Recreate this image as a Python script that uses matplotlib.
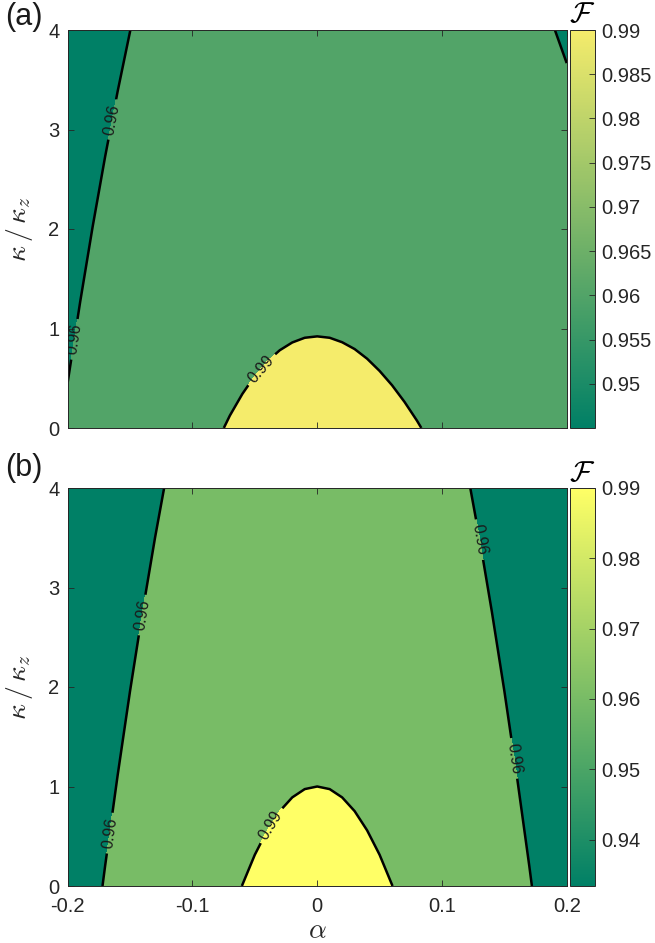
import numpy as np
import matplotlib
matplotlib.use('Agg')
import matplotlib.pyplot as plt
from matplotlib.colors import LinearSegmentedColormap, Normalize
from matplotlib.cm import ScalarMappable
from matplotlib.ticker import FuncFormatter

plt.rcParams['font.family'] = ['Liberation Sans', 'DejaVu Sans']
plt.rcParams['mathtext.fontset'] = 'cm'
plt.rcParams['axes.unicode_minus'] = False

# ---------------- data ----------------
alpha = np.round(np.arange(-0.20, 0.2001, 0.01), 2)   # alpha grid
kappa = np.array([0.0, 4.0])                           # kappa / kappa_z grid

# panel (a): fidelity along alpha at kappa=0, and its change from kappa=0 to 4
F_a_k0 = [0.96195, 0.96537, 0.96857, 0.97155, 0.97432, 0.97688, 0.97924,
          0.98141, 0.98338, 0.98516, 0.98676, 0.98819, 0.98944, 0.99053,
          0.99145, 0.99222, 0.99284, 0.99331, 0.99364, 0.99384, 0.99390,
          0.99384, 0.99365, 0.99336, 0.99295, 0.99243, 0.99182, 0.99111,
          0.99031, 0.98942, 0.98846, 0.98742, 0.98631, 0.98514, 0.98390,
          0.98261, 0.98128, 0.97989, 0.97847, 0.97702, 0.97553]
F_a_kshift = [0.0, -0.01694]

# panel (b)
F_b_k0 = [0.94804, 0.95254, 0.95681, 0.96085, 0.96466, 0.96824, 0.97158,
          0.97470, 0.97758, 0.98024, 0.98266, 0.98485, 0.98681, 0.98855,
          0.99005, 0.99132, 0.99235, 0.99316, 0.99374, 0.99409, 0.99420,
          0.99409, 0.99374, 0.99316, 0.99235, 0.99132, 0.99005, 0.98855,
          0.98681, 0.98485, 0.98266, 0.98024, 0.97758, 0.97470, 0.97158,
          0.96824, 0.96466, 0.96085, 0.95681, 0.95254, 0.94804]
F_b_kshift = [0.0, -0.0168]

levels = [0.96, 0.99]
clim_a = (0.945, 0.99)
clim_b = (0.9334, 0.99)
cbar_ticks_a = [0.95, 0.955, 0.96, 0.965, 0.97, 0.975, 0.98, 0.985, 0.99]
cbar_ticks_b = [0.94, 0.95, 0.96, 0.97, 0.98, 0.99]
xticks = [-0.2, -0.1, 0, 0.1, 0.2]
yticks = [0, 1, 2, 3, 4]
label_pos_a = [(-0.1638, 3.10), (-0.194, 0.89), (-0.043, 0.57)]
label_pos_b = [(-0.1387, 2.72), (-0.1655, 0.53), (0.1296, 3.48),
               (0.1564, 1.28), (-0.0347, 0.59)]

# ---------------- style ----------------
DARK = '#262626'
cmap_a = LinearSegmentedColormap.from_list('summer_a', [(0.0, 0.5, 0.4), (0.96, 0.925, 0.42)])
cmap_b = plt.get_cmap('summer')

fig = plt.figure(figsize=(6.55, 9.43), dpi=100)
W, H = 655.0, 943.0
TICK_FS = 14.5


def panel(ax_rect, cax_rect, F_k0, F_kshift, cmap, clim, cticks, lpos, show_x, tag, tag_y, flab_y):
    ax = fig.add_axes(ax_rect)
    cax = fig.add_axes(cax_rect)
    F = np.asarray(F_k0)[None, :] + np.asarray(F_kshift)[:, None]
    norm = Normalize(*clim)
    fill_levels = [F.min() - 1, levels[0], levels[1], F.max() + 1]
    fill_colors = [cmap(0.0), cmap(norm(levels[0])), cmap(norm(levels[1]))]
    ax.contourf(alpha, kappa, F, levels=fill_levels, colors=fill_colors, antialiased=False)
    cs = ax.contour(alpha, kappa, F, levels=levels, colors='k', linewidths=1.8)
    ax.clabel(cs, fmt=lambda v: f'{v:g}', fontsize=11.5, inline=True,
              inline_spacing=5, manual=lpos, colors='#1a1a1a')
    ax.set_xlim(-0.2, 0.2)
    ax.set_ylim(0, 4)
    ax.set_xticks(xticks)
    ax.set_yticks(yticks)
    ax.xaxis.set_major_formatter(FuncFormatter(lambda v, p: f'{v:g}'))
    ax.tick_params(direction='in', top=True, right=True, length=4, width=0.6,
                   color=DARK, labelcolor=DARK, labelsize=TICK_FS,
                   labelbottom=show_x)
    ax.tick_params(axis='y', pad=6)
    ax.tick_params(axis='x', pad=8)
    for s in ax.spines.values():
        s.set_color(DARK)
        s.set_linewidth(0.7)
    ax.set_ylabel(r'$\kappa\,/\,\kappa_z$', fontsize=20, color=DARK, va='center')
    ax.yaxis.set_label_coords((20 - 67.7) / 499.0, 0.5)
    if show_x:
        ax.set_xlabel(r'$\alpha$', fontsize=20, color=DARK, va='center')
        ax.xaxis.set_label_coords(0.5, (886 - 931) / 398.0)
    cb = fig.colorbar(ScalarMappable(norm=norm, cmap=cmap), cax=cax)
    cb.set_ticks(cticks)
    cb.ax.yaxis.set_major_formatter(FuncFormatter(lambda v, p: f'{v:g}'))
    cb.ax.tick_params(direction='in', length=4, width=0.6, color=DARK,
                      labelcolor=DARK, labelsize=TICK_FS, pad=5)
    cb.outline.set_edgecolor(DARK)
    cb.outline.set_linewidth(0.7)
    fig.text(5 / W, 1 - tag_y / H, tag, fontsize=22, ha='left', va='center', color='#1a1a1a')
    fig.text(582 / W, 1 - flab_y / H, r'$\mathcal{F}$', fontsize=21, ha='center',
             va='center', color='k')
    return ax


panel([67.7 / W, 515 / H, 499 / W, 398 / H], [569.5 / W, 515 / H, 25 / W, 398 / H],
      F_a_k0, F_a_kshift, cmap_a, clim_a, cbar_ticks_a, label_pos_a, False, '(a)', 17, 14)
panel([67.7 / W, 57 / H, 499 / W, 398 / H], [569.5 / W, 57 / H, 25 / W, 398 / H],
      F_b_k0, F_b_kshift, cmap_b, clim_b, cbar_ticks_b, label_pos_b, True, '(b)', 468, 473)

fig.savefig('out.png', dpi=100)
